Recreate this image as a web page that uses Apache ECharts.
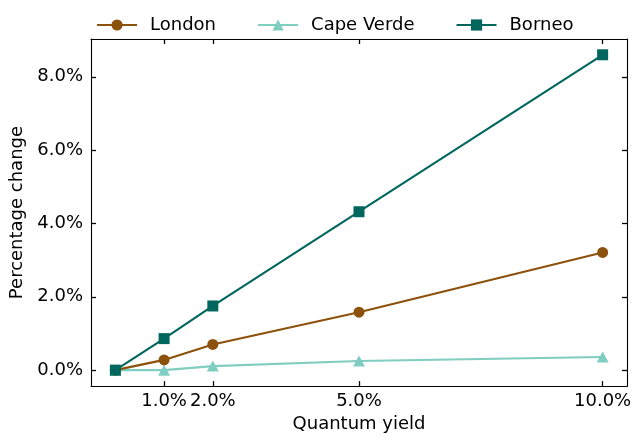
<!DOCTYPE html>
<html><head><meta charset="utf-8">
<script src="https://cdn.jsdelivr.net/npm/echarts@6/dist/echarts.min.js"></script>
<style>html,body{margin:0;padding:0;background:#fff}#c{width:635px;height:438px}</style>
</head><body><div id="c"></div>
<script>
const quantumYield = [0, 1, 2, 5, 10];
const london = [0, 0.28, 0.70, 1.58, 3.21];
const capeVerde = [0, 0.0, 0.11, 0.25, 0.36];
const borneo = [0, 0.86, 1.75, 4.32, 8.6];
const xTicks = [1, 2, 5, 10];
const yTicks = [0, 2, 4, 6, 8];
const seriesNames = ['London', 'Cape Verde', 'Borneo'];
const colors = ['#8c510a', '#80cdc1', '#01665e'];

const font = 'DejaVu Sans';
const fs = 18;
const pairs = v => quantumYield.map((x, i) => [x, v[i]]);
const tickStyle = {show: true, inside: true, length: 5, lineStyle: {color: '#000', width: 1.3}};
const lineAx = {show: true, onZero: false, lineStyle: {color: '#000', width: 1.1}};

const chart = echarts.init(document.getElementById('c'), null, {renderer: 'canvas'});
chart.setOption({
  animation: false,
  textStyle: {fontFamily: font},
  color: colors,
  grid: {left: 91, right: 8, top: 39, bottom: 51},
  legend: {
    top: 16, left: 96, padding: 0, itemWidth: 40, itemHeight: 14, itemGap: 41,
    lineStyle: {width: 2.1},
    textStyle: {fontFamily: font, fontSize: fs, color: '#000', padding: [0, 0, 0, 8]},
    data: seriesNames
  },
  xAxis: [{
    type: 'value', min: -0.5, max: 10.5,
    name: 'Quantum yield', nameLocation: 'middle', nameGap: 28,
    nameTextStyle: {fontFamily: font, fontSize: fs, color: '#000'},
    axisLine: lineAx, splitLine: {show: false},
    axisTick: Object.assign({customValues: xTicks}, tickStyle),
    axisLabel: {customValues: xTicks, formatter: v => v.toFixed(1) + '%', fontFamily: font, fontSize: fs, color: '#000', margin: 6}
  }, {
    type: 'value', min: -0.5, max: 10.5, position: 'top',
    axisLine: lineAx, splitLine: {show: false},
    axisTick: Object.assign({customValues: xTicks}, tickStyle),
    axisLabel: {show: false}
  }],
  yAxis: [{
    type: 'value', min: -0.435, max: 9.03,
    name: 'Percentage change', nameLocation: 'middle', nameGap: 62,
    nameTextStyle: {fontFamily: font, fontSize: fs, color: '#000'},
    axisLine: lineAx, splitLine: {show: false},
    axisTick: Object.assign({customValues: yTicks}, tickStyle),
    axisLabel: {customValues: yTicks, formatter: v => v.toFixed(1) + '%', fontFamily: font, fontSize: fs, color: '#000', margin: 8}
  }, {
    type: 'value', min: -0.435, max: 9.03, position: 'right',
    axisLine: lineAx, splitLine: {show: false},
    axisTick: Object.assign({customValues: yTicks}, tickStyle),
    axisLabel: {show: false}
  }],
  series: [
    {name: seriesNames[0], type: 'line', data: pairs(london), symbol: 'circle', symbolSize: 11, lineStyle: {width: 2.1}, itemStyle: {color: colors[0]}, z: 3},
    {name: seriesNames[1], type: 'line', data: pairs(capeVerde), symbol: 'triangle', symbolSize: [12, 11], lineStyle: {width: 2.1}, itemStyle: {color: colors[1]}, z: 2},
    {name: seriesNames[2], type: 'line', data: pairs(borneo), symbol: 'rect', symbolSize: 11, lineStyle: {width: 2.1}, itemStyle: {color: colors[2]}, z: 4}
  ]
});
</script></body></html>
